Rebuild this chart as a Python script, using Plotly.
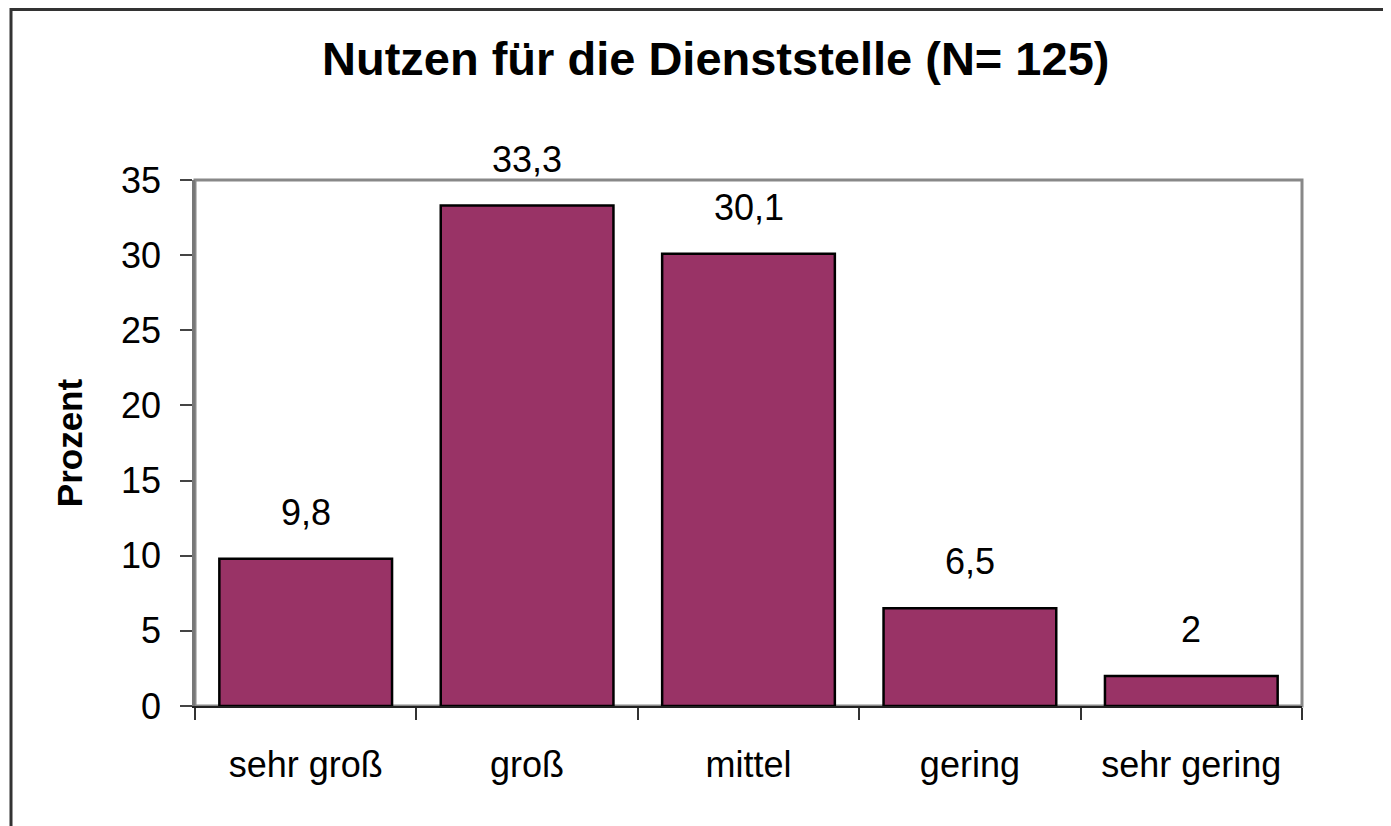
import plotly.graph_objects as go

categories = ["sehr groß", "groß", "mittel", "gering", "sehr gering"]
values = [9.8, 33.3, 30.1, 6.5, 2]
value_labels = ["9,8", "33,3", "30,1", "6,5", "2"]
title_text = "Nutzen für die Dienststelle (N= 125)"
y_title = "Prozent"

OFF = 8  # page body margin
W, H = 1391 - OFF, 826 - OFF
# plot area in page pixels: x 195..1302, y 180..706
PL, PR, PT, PB = 195, 1302, 180, 706
pw, ph = PR - PL, PB - PT
L, T = PL - OFF, PT - OFF
R, B = W - L - pw, H - T - ph

def px_x(x):
    return (x - PL) / pw

def px_y(y):
    return (PB - y) / ph

font = "Liberation Sans, Arial, sans-serif"

fig = go.Figure()
fig.add_trace(go.Bar(
    x=categories, y=values,
    marker=dict(color="#993366", line=dict(color="black", width=2.5)),
    width=0.78,
))

for c, v, t in zip(categories, values, value_labels):
    fig.add_annotation(x=c, y=v, text=t, showarrow=False, yanchor="bottom",
                       yshift=24, font=dict(family=font, size=36, color="black"))

fig.add_annotation(x=px_x(715), y=px_y(59), xref="paper", yref="paper",
                   text="<b>" + title_text + "</b>", showarrow=False,
                   xanchor="center", yanchor="middle",
                   font=dict(family=font, size=47, color="black"))

# plot area border (top/right gray)
fig.add_shape(type="rect", xref="paper", yref="paper", x0=0, y0=0, x1=1, y1=1,
              line=dict(color="#888888", width=3), layer="below")
# outer frame
fig.add_shape(type="rect", xref="paper", yref="paper",
              x0=px_x(11), y0=px_y(850), x1=px_x(1420), y1=px_y(9.5),
              line=dict(color="#333333", width=3), layer="below")

fig.update_layout(
    width=W, height=H,
    margin=dict(l=L, r=R, t=T, b=B, pad=0),
    paper_bgcolor="white", plot_bgcolor="white",
    showlegend=False,
    font=dict(family=font, size=36, color="black"),
    bargap=0.22,
)
fig.update_xaxes(
    type="category", showgrid=False, showline=True, linecolor="#222222", linewidth=2,
    ticks="outside", tickson="boundaries", ticklen=12, tickwidth=1.5, tickcolor="#333333",
    ticklabelstandoff=26, tickfont=dict(family=font, size=36, color="black"),
)
fig.update_yaxes(
    range=[0, 35], dtick=5, showgrid=False, showline=True, linecolor="#777777", linewidth=2.5,
    ticks="outside", ticklen=12, tickwidth=1.5, tickcolor="#444444",
    ticklabelstandoff=12, tickfont=dict(family=font, size=36, color="black"),
    title=dict(text="<b>" + y_title + "</b>", font=dict(family=font, size=35, color="black"), standoff=28),
    zeroline=False,
)

fig.write_html("out.html")
